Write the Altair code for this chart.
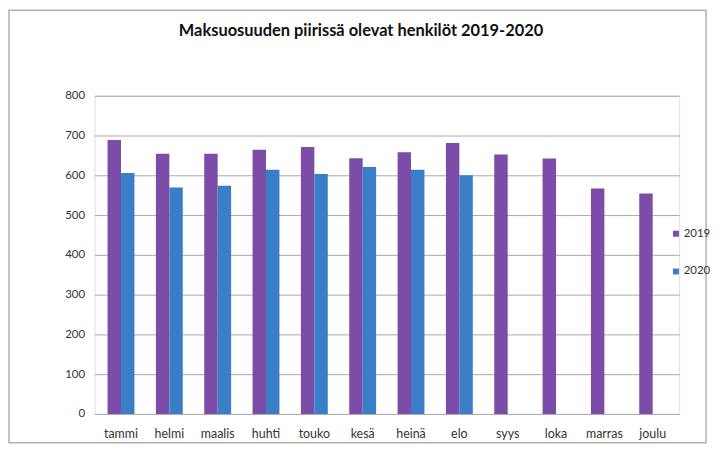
import altair as alt
import pandas as pd

months = ["tammi", "helmi", "maalis", "huhti", "touko", "kesä",
          "heinä", "elo", "syys", "loka", "marras", "joulu"]
vals_2019 = [689, 654, 654, 664, 671, 643, 658, 681, 652, 642, 567, 554]
vals_2020 = [606, 569, 574, 614, 603, 621, 614, 600]
years = ["2019", "2020"]
colors = ["#7B4DA8", "#3B7EC8"]

rows = []
for m, v in zip(months, vals_2019):
    rows.append({"kk": m, "vuosi": "2019", "arvo": v})
for m, v in zip(months, vals_2020):
    rows.append({"kk": m, "vuosi": "2020", "arvo": v})
df = pd.DataFrame(rows)

FONT = "Lato"

bars = alt.Chart(df).mark_bar().encode(
    x=alt.X("kk:N", sort=months,
            scale=alt.Scale(domain=months, paddingInner=0.444, paddingOuter=0.27),
            axis=alt.Axis(title=None, labelAngle=0, ticks=False, domain=False,
                          labelPadding=14, labelFontSize=12.5, labelColor="#333333",
                          labelFont=FONT)),
    xOffset=alt.XOffset("vuosi:N", scale=alt.Scale(domain=years, paddingInner=0, paddingOuter=0)),
    y=alt.Y("arvo:Q",
            scale=alt.Scale(domain=[0, 800], nice=False),
            axis=alt.Axis(title=None, values=[0, 100, 200, 300, 400, 500, 600, 700, 800],
                          ticks=False, domain=False, labelPadding=10, labelFontSize=11.5,
                          labelColor="#333333", labelFont=FONT,
                          grid=True, gridColor="#a8a8a8", gridWidth=1)),
    color=alt.Color("vuosi:N", scale=alt.Scale(domain=years, range=colors),
                    legend=alt.Legend(title=None, orient="none", legendX=579, legendY=133,
                                      symbolType="square", symbolSize=36, symbolStrokeWidth=0,
                                      labelFontSize=11.5, labelFont=FONT, labelColor="#333333",
                                      rowPadding=25, labelOffset=2)),
)

frame = alt.Chart(pd.DataFrame({"a": [0]})).mark_rect(
    fill=None, stroke="#b0b0b0", strokeWidth=1.5
).encode(
    x=alt.value(-86), x2=alt.value(588 + 27), y=alt.value(-86), y2=alt.value(320 + 29)
)

chart = alt.layer(frame, bars).properties(
    width=588, height=320,
    title=alt.TitleParams("Maksuosuuden piirissä olevat henkilöt 2019-2020",
                          font=FONT, fontSize=16.5, fontWeight="bold", color="#111111",
                          anchor="middle", frame="group", dx=-26, offset=-30),
    autosize=alt.AutoSizeParams(type="none"),
    padding={"left": 87, "top": 87, "right": 33, "bottom": 30},
).configure_view(stroke=None).configure(background="white")

chart.save("out.html", embed_options={"renderer": "svg", "actions": False})
